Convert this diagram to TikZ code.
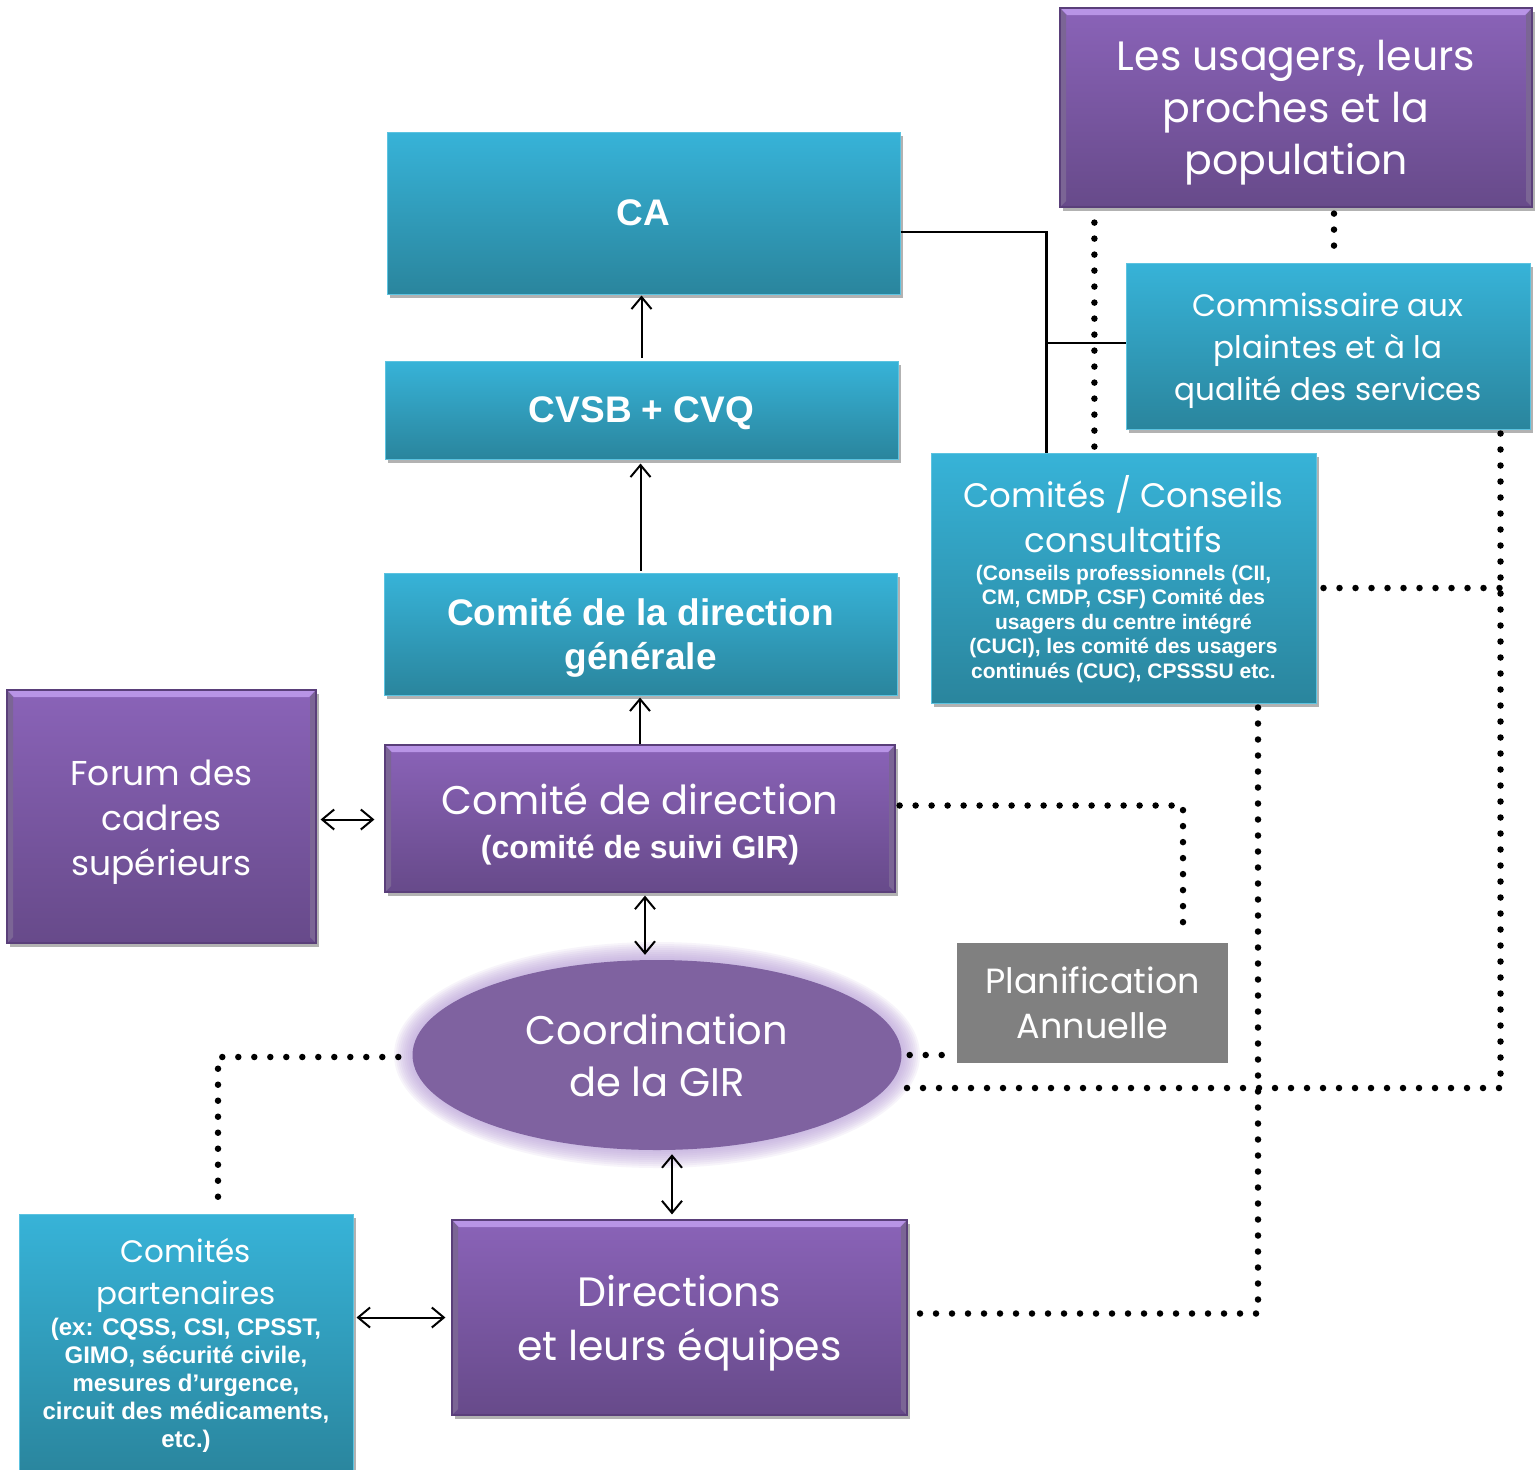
\documentclass[tikz,border=0pt]{standalone}
\usepackage{fontspec}
\setmainfont{Poppins}
\newfontfamily\thin{Poppins}
\newfontfamily\bfnt{Liberation Sans}
\usetikzlibrary{arrows.meta,shadows,calc,shapes.geometric}
\definecolor{cyT}{HTML}{37B3D8}
\definecolor{cyB}{HTML}{2A859D}
\definecolor{cyE}{HTML}{5CC3E0}
\definecolor{puT}{HTML}{8A63B8}
\definecolor{puB}{HTML}{674A8A}
\definecolor{puE}{HTML}{5A3F7A}
\definecolor{puL}{HTML}{B894E6}
\definecolor{grayB}{HTML}{808080}
\definecolor{ellF}{HTML}{7F62A0}
\definecolor{glowC}{HTML}{B39AD6}
\tikzset{
  basebox/.style={rectangle, inner sep=0pt, align=center, text=white,
    drop shadow={shadow xshift=3pt, shadow yshift=-4pt, opacity=0.3, fill=black}},
  cbox/.style={basebox, top color=cyT, bottom color=cyB, draw=cyE, line width=1pt},
  pbox/.style={basebox, top color=puT, bottom color=puB, draw=puE, line width=1.2pt,
    path picture={
      \fill[puL] (path picture bounding box.north west) -- (path picture bounding box.north east)
        -- ([shift={(-7pt,-7pt)}]path picture bounding box.north east)
        -- ([shift={(7pt,-7pt)}]path picture bounding box.north west) -- cycle;
      \fill[puE!80] (path picture bounding box.north east) -- (path picture bounding box.south east)
        -- ([shift={(-6pt,6pt)}]path picture bounding box.south east)
        -- ([shift={(-6pt,-7pt)}]path picture bounding box.north east) -- cycle;
      \fill[puE!80] (path picture bounding box.north west) -- (path picture bounding box.south west)
        -- ([shift={(6pt,6pt)}]path picture bounding box.south west)
        -- ([shift={(6pt,-7pt)}]path picture bounding box.north west) -- cycle;
    }},
  gbox/.style={rectangle, inner sep=0pt, align=center, text=white, fill=grayB},
  arr/.style={-{Straight Barb[length=12pt,width=20pt,line width=2pt]}, line width=2pt, black},
  darr/.style={{Straight Barb[length=12pt,width=20pt,line width=2pt]}-{Straight Barb[length=12pt,width=20pt,line width=2pt]}, line width=2pt, black},
  solidln/.style={line width=2.5pt, black},
  dotln/.style={line width=6.5pt, line cap=round, dash pattern=on 0pt off 16pt, black},
}
\newcommand{\fs}[2]{\fontsize{#1}{#2}\selectfont}
\newcommand{\dn}[3]{\parbox{#1}{\centering\vspace*{#2}#3\par}}
\begin{document}
\begin{tikzpicture}[x=1pt,y=-1pt]
\clip (0,0) rectangle (1540,1470);
\fill[white] (0,0) rectangle (1540,1470);

% glow behind ellipse
\foreach \r in {18,16,...,1}{
  \fill[glowC, opacity=0.1] (657,1055) ellipse ({245+\r} and {95+\r});
}

% boxes
\node[cbox, minimum width=513pt, minimum height=162pt, font={\bfnt\bfseries\fs{37}{44}}] (ca) at (643.5,213) {CA};
\node[cbox, minimum width=513pt, minimum height=98pt, font={\bfnt\bfseries\fs{37}{44}}] (cvsb) at (641.5,410)
  {\dn{500pt}{6pt}{CVSB + CVQ}};
\node[cbox, minimum width=513pt, minimum height=122pt, font={\bfnt\bfseries\fs{37}{44}}] (cdg) at (640.5,634)
  {\dn{500pt}{8pt}{Comité de la direction\\générale}};
\node[pbox, minimum width=510pt, minimum height=147pt] (cd) at (640,818.5)
  {\parbox{500pt}{\centering\vspace*{11pt}\thin\fs{40}{44}Comité de direction\par
   \bfnt\bfseries\fs{32}{44}(comité de suivi GIR)\par}};
\node[pbox, minimum width=309pt, minimum height=253pt, font={\thin\fs{34.5}{45}}] (forum) at (161.5,816.5)
  {\dn{300pt}{11pt}{Forum des\\cadres\\supérieurs}};
\node[ellipse, inner sep=0pt, fill=ellF, minimum width=489pt, minimum height=190pt,
  text=white, align=center, font={\thin\fs{40}{52}}] (gir) at (657,1055)
  {Coordination\\de la GIR};
\node[gbox, minimum width=271pt, minimum height=120pt, font={\thin\fs{35}{45}}] (plan) at (1092.5,1003)
  {Planification\\Annuelle};
\node[pbox, minimum width=455pt, minimum height=195pt, font={\thin\fs{41}{54}}] (dir) at (679.5,1317.5)
  {\dn{445pt}{11pt}{Directions\\et leurs équipes}};
\node[cbox, minimum width=334pt, minimum height=262pt] (cp) at (186,1345)
  {\parbox{330pt}{\centering\thin\fs{31}{42}Comités\\partenaires\par\vspace{3pt}
   \bfnt\bfseries\fs{24}{28}(ex: CQSS, CSI, CPSST,\\GIMO, sécurité civile,\\mesures d’urgence,\\circuit des médicaments,\\etc.)\par}};
\node[pbox, minimum width=472pt, minimum height=199pt, font={\thin\fs{41}{52}}] (usag) at (1296,107.5)
  {\dn{465pt}{11pt}{Les usagers, leurs\\proches et la\\population}};
\node[cbox, minimum width=404pt, minimum height=166pt, font={\thin\fs{31}{42}}] (comm) at (1328,346)
  {\dn{400pt}{10pt}{Commissaire aux\\plaintes et à la\\qualité des services}};
\node[cbox, minimum width=385pt, minimum height=250pt] (ccc) at (1123.5,578)
  {\parbox{380pt}{\centering\vspace*{2pt}\thin\fs{34}{45}Comités / Conseils\\consultatifs\par\vspace{3pt}
   \bfnt\bfseries\fs{21}{24.5}(Conseils professionnels (CII,\\CM, CMDP, CSF) Comité des\\usagers du centre intégré\\(CUCI), les comité des usagers\\continués (CUC), CPSSSU etc.\par}};

% arrows
\draw[arr, shorten <=3pt, shorten >=1pt] (cvsb.north) -- (cvsb.north |- ca.south);
\draw[arr, shorten <=2pt, shorten >=4pt] (cdg.north) -- (cdg.north |- cvsb.south);
\draw[arr, shorten >=2pt] (cd.north) -- (cd.north |- cdg.south);
\coordinate (fa) at ([yshift=-3pt]forum.east);
\draw[darr, shorten <=4pt, shorten >=10pt] (fa) -- (fa -| cd.west);
\coordinate (cdb) at ([xshift=5pt]cd.south);
\draw[darr, shorten <=3pt, shorten >=5pt] (cdb) -- (cdb |- gir.north);
\coordinate (gb) at ([xshift=15pt]gir.south);
\draw[darr, shorten <=4pt, shorten >=5pt] (gb) -- (gb |- dir.north);
\draw[darr, shorten <=3pt, shorten >=6pt] (dir.west -| cp.east) -- (dir.west);

% solid lines
\coordinate (sj) at ([xshift=-77pt]ccc.north);
\draw[solidln] ([yshift=-19pt]ca.east) -| (sj);
\draw[solidln] ([yshift=3pt]comm.west) -- ([yshift=3pt]comm.west -| sj);

% dotted lines
\coordinate (vr) at ([xshift=-30pt]comm.south east);
\coordinate (vl) at ([shift={(35pt,-15pt)}]usag.south west);
\coordinate (uc) at ([shift={(6pt,2pt)}]comm.north);
\draw[dotln] (vl) -- ([yshift=4pt]vl |- ccc.north);
\draw[dotln] ([yshift=-6pt]uc |- usag.south) -- (uc);
\draw[dotln] ([yshift=-4pt]vr) |- ([shift={(-9,33)}]gir.east);
\draw[dotln] ([shift={(7,10)}]ccc.east) -- ([shift={(7,10)}]ccc.east -| vr);
\draw[dotln] ([shift={(4,-13)}]cd.east) -| ([shift={(90.5,-15)}]plan.north);
\coordinate (pl) at (gir.east -| plan.west);
\draw[dotln] ([xshift=8pt]gir.east) -- ([xshift=-8pt]pl);
\draw[dotln] ([shift={(134.5,4)}]ccc.south) |- ([shift={(4,-4)}]dir.east);
\draw[dotln] ([shift={(-14,2)}]gir.west) -| ([shift={(32,-3)}]cp.north);
\end{tikzpicture}
\end{document}
